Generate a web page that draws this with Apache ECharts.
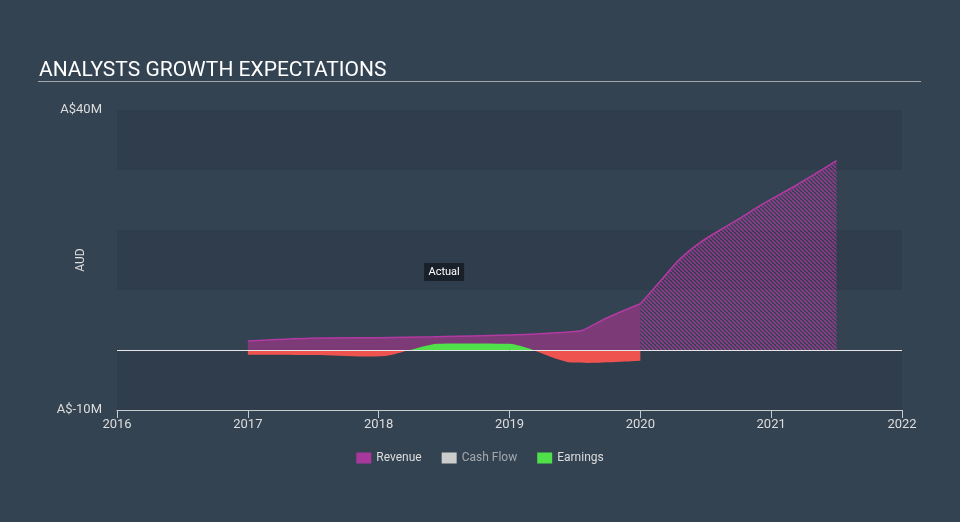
<!DOCTYPE html>
<html>
<head>
<meta charset="utf-8">
<script src="https://cdn.jsdelivr.net/npm/echarts@6/dist/echarts.min.js"></script>
<style>
html,body{margin:0;padding:0;background:#344352;}
#c{width:960px;height:522px;}
</style>
</head>
<body>
<div id="c"></div>
<script>
// ---- data ----
var yearTicks = [2016, 2017, 2018, 2019, 2020, 2021, 2022];
var revenueActual = [
  [2017.0, 1.5], [2017.48, 1.95], [2018.0, 2.05], [2018.42, 2.2], [2019.0, 2.5],
  [2019.3, 2.8], [2019.48, 3.05], [2019.56, 3.3], [2019.74, 5.3], [2020.0, 7.7]
];
var revenueForecast = [
  [2020.0, 7.7], [2020.15, 11.4], [2020.3, 15.1], [2020.456, 17.9], [2020.61, 20.0],
  [2020.76, 21.95], [2020.94, 24.4], [2021.195, 27.5], [2021.5, 31.55]
];
var earnings = [
  [2017.0, -0.8], [2017.5, -0.85], [2017.9, -1.1], [2018.05, -1.0], [2018.24, 0],
  [2018.45, 1.05], [2018.6, 1.1], [2019.0, 1.05], [2019.08, 0.7], [2019.18, 0],
  [2019.35, -1.4], [2019.48, -2.1], [2019.6, -2.15], [2020.0, -1.8]
];
var cashFlow = [];
var yMin = -10, yMax = 40, yStep = 10;
var yLabels = {'40': 'A$40M', '-10': 'A$-10M'};
var actualLabelAt = [2018.5, 13];

var RED = '#ef5350', GREEN = '#4fe04a';

// ---- hatch pattern ----
function hatch() {
  var c = document.createElement('canvas');
  var s = 8;
  c.width = s; c.height = s;
  var g = c.getContext('2d');
  g.clearRect(0, 0, s, s);
  g.strokeStyle = 'rgba(176,56,160,0.8)';
  g.lineWidth = 1.5;
  for (var k = -s; k <= 2 * s; k += 4) {
    g.beginPath();
    g.moveTo(k, 0);
    g.lineTo(k + s, s);
    g.stroke();
  }
  return c;
}

var chart = echarts.init(document.getElementById('c'));
var option = {
  backgroundColor: '#344352',
  animation: false,
  textStyle: {fontFamily: 'Roboto'},
  grid: {left: 117, right: 58, top: 110, bottom: 112},
  title: {
    text: 'ANALYSTS GROWTH EXPECTATIONS', left: 34, top: 55,
    textStyle: {color: '#ffffff', fontSize: 21, fontWeight: 'normal', fontFamily: 'Roboto'}
  },
  legend: {
    bottom: 53, left: 'center',
    itemWidth: 15, itemHeight: 11, itemGap: 20,
    icon: 'rect',
    textStyle: {color: '#dddddd', fontSize: 12, fontFamily: 'Roboto'},
    data: [
      {name: 'Revenue'},
      {name: 'Cash Flow', textStyle: {color: '#a4a9ae'}},
      {name: 'Earnings'}
    ]
  },
  xAxis: {
    type: 'value', min: yearTicks[0], max: yearTicks[yearTicks.length - 1], interval: 1,
    axisLine: {onZero: false, lineStyle: {color: '#c8cbce', width: 1}},
    axisTick: {show: true, length: 8, lineStyle: {color: '#c8cbce'}},
    axisLabel: {color: '#dddddd', fontSize: 13, margin: 8, formatter: function (v) { return String(v); }},
    splitLine: {show: false}
  },
  yAxis: {
    type: 'value', min: yMin, max: yMax, interval: yStep,
    name: 'AUD', nameLocation: 'middle', nameGap: 30, nameRotate: 90, nameMoveOverlap: false,
    nameTextStyle: {color: '#dddddd', fontSize: 12},
    axisLine: {show: false}, axisTick: {show: false},
    axisLabel: {color: '#dddddd', fontSize: 13, margin: 15,
      formatter: function (v) { return yLabels[String(v)] || ''; }},
    splitLine: {show: false},
    splitArea: {show: true, areaStyle: {color: ['rgba(20,30,45,0.14)', 'rgba(0,0,0,0)']}}
  },
  series: [
    {
      name: 'Revenue', type: 'line', data: revenueActual, smooth: 0.3,
      showSymbol: false, symbol: 'none',
      itemStyle: {color: '#a8389b'},
      lineStyle: {color: '#b23aa2', width: 1.5},
      areaStyle: {color: '#7c3a77', opacity: 1},
      markLine: {
        silent: true, symbol: 'none', label: {show: false},
        lineStyle: {color: '#e6e6e6', width: 1, type: 'solid'},
        data: [{yAxis: 0}]
      },
      z: 2
    },
    {
      name: 'Revenue', type: 'line', data: revenueForecast, smooth: 0.3,
      showSymbol: false, symbol: 'none',
      itemStyle: {color: '#a8389b'},
      lineStyle: {color: '#b23aa2', width: 1.5},
      areaStyle: {color: {image: hatch(), repeat: 'repeat'}, opacity: 1},
      z: 2
    },
    {
      name: 'Cash Flow', type: 'line', data: cashFlow, showSymbol: false,
      itemStyle: {color: '#cccccc'}
    },
    {
      name: 'Earnings', type: 'line', data: earnings, smooth: 0.3,
      showSymbol: false, symbol: 'none',
      itemStyle: {color: GREEN},
      lineStyle: {width: 0},
      areaStyle: {opacity: 1, color: GREEN},
      z: 3
    }
  ]
};
chart.setOption(option);

var y0 = chart.convertToPixel({gridIndex: 0}, [2016, 0])[1];
var splitFill = {
  type: 'linear', x: 0, y: y0 - 0.5, x2: 0, y2: y0 + 0.5, global: true,
  colorStops: [
    {offset: 0, color: GREEN}, {offset: 0.5, color: GREEN},
    {offset: 0.5, color: RED}, {offset: 1, color: RED}
  ]
};
var p = chart.convertToPixel({gridIndex: 0}, actualLabelAt);
chart.setOption({
  series: [{}, {}, {}, {areaStyle: {opacity: 1, color: splitFill}}],
  graphic: [
    {type: 'line', shape: {x1: 38, y1: 81.5, x2: 921, y2: 81.5},
     style: {stroke: '#a3a8ad', lineWidth: 1.2}, silent: true},
    {type: 'group', x: p[0], y: p[1], z: 100, children: [
      {type: 'rect', shape: {x: -20, y: -9, width: 40, height: 18},
       style: {fill: '#1a2029'}},
      {type: 'text', style: {text: 'Actual', x: 0, y: 0, align: 'center', verticalAlign: 'middle',
        fill: '#ffffff', font: '11px Roboto'}}
    ]}
  ]
});
</script>
</body>
</html>
